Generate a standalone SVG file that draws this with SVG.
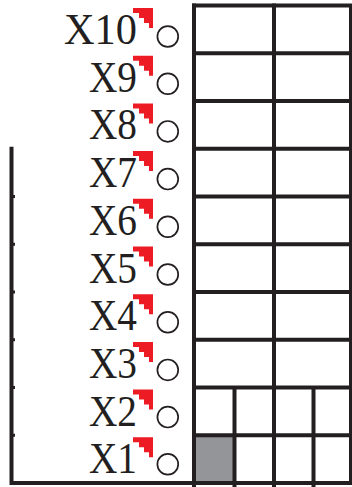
<svg xmlns="http://www.w3.org/2000/svg" width="352" height="487" viewBox="0 0 352 487">
<style>
.ln{stroke:#231f20;stroke-width:4;fill:none}
.lbl{font-family:"Liberation Serif","Times New Roman",serif;font-size:45px;fill:#231f20}
.tri{fill:#ed1c24}
.dot{fill:none;stroke:#231f20;stroke-width:1.7}
</style>
<defs>
<polygon id="tri" class="tri" points="0,0 20,0 20,20 16,20 16,15 11,15 11,10 6,10 6,5 0,5"/>
</defs>
<rect width="352" height="487" fill="#fff"/>
<g id="grid">
<rect x="194" y="435.25" width="40.5" height="47.75" fill="#939598"/>
<path class="ln" d="M192,5.5H352M192,53.25H352M192,101H352M192,148.75H352M192,196.5H352M192,244.25H352M192,292H352M192,339.75H352M192,387.5H352M192,435.25H352M192,483H352"/>
<path class="ln" d="M194,3.5V487M274,3.5V487M234.5,387.5V487M313.5,387.5V487"/>
<path class="ln" style="stroke-width:3" d="M350.5,4V485"/>
</g>
<g id="connectors">
<path class="ln" d="M11.5,146.7V483H194"/>
<path fill="#231f20" d="M13,195h2v3h-2zM13,242.8h2v3h-2zM13,290.5h2v3h-2zM13,338.3h2v3h-2zM13,386h2v3h-2zM13,433.8h2v3h-2z"/>
</g>
<g id="x10"><use href="#tri" x="133" y="8"/><text class="lbl" x="64" y="44" textLength="73" lengthAdjust="spacingAndGlyphs">X10</text><circle class="dot" cx="167.8" cy="36.5" r="10.4"/></g>
<g id="x9"><use href="#tri" x="133" y="55.7"/><text class="lbl" x="89" y="91.7" textLength="48" lengthAdjust="spacingAndGlyphs">X9</text><circle class="dot" cx="167.8" cy="83.7" r="10.4"/></g>
<g id="x8"><use href="#tri" x="133" y="103.4"/><text class="lbl" x="89" y="139.4" textLength="48" lengthAdjust="spacingAndGlyphs">X8</text><circle class="dot" cx="167.8" cy="131.4" r="10.4"/></g>
<g id="x7"><use href="#tri" x="133" y="151.1"/><text class="lbl" x="89" y="187.1" textLength="48" lengthAdjust="spacingAndGlyphs">X7</text><circle class="dot" cx="167.8" cy="179.1" r="10.4"/></g>
<g id="x6"><use href="#tri" x="133" y="198.8"/><text class="lbl" x="89" y="234.8" textLength="48" lengthAdjust="spacingAndGlyphs">X6</text><circle class="dot" cx="167.8" cy="226.8" r="10.4"/></g>
<g id="x5"><use href="#tri" x="133" y="246.5"/><text class="lbl" x="89" y="282.5" textLength="48" lengthAdjust="spacingAndGlyphs">X5</text><circle class="dot" cx="167.8" cy="274.5" r="10.4"/></g>
<g id="x4"><use href="#tri" x="133" y="294.2"/><text class="lbl" x="89" y="330.2" textLength="48" lengthAdjust="spacingAndGlyphs">X4</text><circle class="dot" cx="167.8" cy="322.2" r="10.4"/></g>
<g id="x3"><use href="#tri" x="133" y="341.9"/><text class="lbl" x="89" y="377.9" textLength="48" lengthAdjust="spacingAndGlyphs">X3</text><circle class="dot" cx="167.8" cy="369.9" r="10.4"/></g>
<g id="x2"><use href="#tri" x="133" y="389.6"/><text class="lbl" x="89" y="425.6" textLength="48" lengthAdjust="spacingAndGlyphs">X2</text><circle class="dot" cx="167.8" cy="417.1" r="10.4"/></g>
<g id="x1"><use href="#tri" x="133" y="437.3"/><text class="lbl" x="89" y="473.3" textLength="48" lengthAdjust="spacingAndGlyphs">X1</text><circle class="dot" cx="167.8" cy="464.3" r="10.4"/></g>
</svg>
